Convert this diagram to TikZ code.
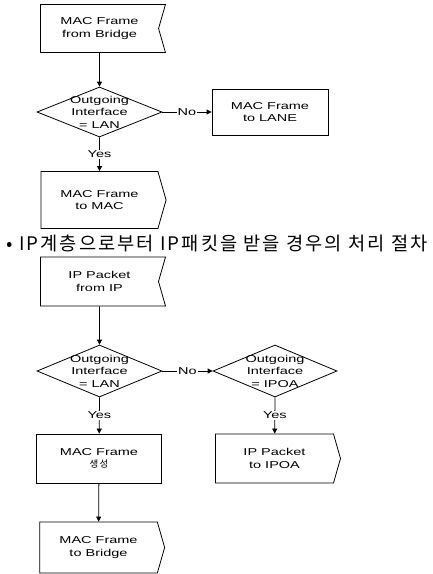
\documentclass[tikz,border=0pt]{standalone}
\usepackage{fontspec}
\setmainfont{Liberation Sans}
\newfontfamily\boxfont[FakeStretch=1.45]{Liberation Sans}
\newfontfamily\kofont[LetterSpace=11]{Noto Sans CJK KR}
\usetikzlibrary{shapes.geometric, shapes.symbols, arrows.meta}
\tikzstyle{arrow} = [line width=0.8pt, ->, >={Triangle[length=5pt,width=5pt]}]
\tikzstyle{procbox} = [draw, line width=0.8pt, rectangle, minimum width=125pt, minimum height=48pt, align=center, font=\boxfont\fontsize{10}{12.5}\selectfont]
\tikzstyle{inbox} = [procbox, signal, signal to=nowhere, signal from=east, signal pointer angle=148]
\tikzstyle{outbox} = [procbox, signal, signal to=east, signal from=nowhere, signal pointer angle=148]
\tikzstyle{decision} = [draw, line width=0.8pt, diamond, inner sep=0pt, minimum width=125pt, minimum height=50pt]
\tikzstyle{answer} = [fill=white, inner sep=1pt, font=\boxfont\fontsize{10}{12.5}\selectfont]

\begin{document}
\begin{tikzpicture}[x=1pt, y=-1pt]
    \useasboundingbox (0,0) rectangle (432,574);

    % Bridge -> MAC / LANE
    \node[inbox] (frombridge) at (99.5,28.5) {MAC Frame\\from Bridge};
    \node[decision, label={[align=center, font=\boxfont\fontsize{10}{12.5}\selectfont]center:Outgoing\\Interface\\= LAN}] (lanchk) at (99.5,112) {};
    \node[procbox, minimum width=116pt, minimum height=46pt] (tolane) at (270,112) {MAC Frame\\to LANE};
    \node[outbox, minimum height=57pt] (tomac) at (99.5,200) {MAC Frame\\to MAC};

    \draw[arrow] (frombridge) -- (lanchk);
    \draw[arrow] (lanchk.east) -- node[answer] {No} (tolane);
    \draw[arrow] (lanchk.south) -- node[answer] {Yes} (tomac);

    \node[anchor=west, font=\kofont\fontsize{18.7}{20}\selectfont] (iptitle) at (3,243) {• IP계층으로부터 IP패킷을 받을 경우의 처리 절차};

    % IP -> Bridge / IPOA
    \node[inbox, minimum height=49pt] (fromip) at (99.5,281.5) {IP Packet\\from IP};
    \node[decision, minimum height=52pt, label={[align=center, font=\boxfont\fontsize{10}{12.5}\selectfont]center:Outgoing\\Interface\\= LAN}] (lanchk2) at (99.5,371) {};
    \node[decision, minimum width=124pt, minimum height=52pt, label={[align=center, font=\boxfont\fontsize{10}{12.5}\selectfont]center:Outgoing\\Interface\\= IPOA}] (ipoachk) at (275,371) {};
    \node[procbox, minimum height=49pt] (mkframe) at (99,458.5) {MAC Frame\\{\kofont\fontsize{9.5}{12}\selectfont 생성}};
    \node[outbox, minimum height=49pt] (toipoa) at (274.5,458.5) {IP Packet\\to IPOA};
    \node[outbox, minimum height=51pt] (tobridge) at (98.5,547.5) {MAC Frame\\to Bridge};

    \draw[arrow] (fromip) -- (lanchk2);
    \draw[arrow] (lanchk2.east) -- node[answer] {No} (ipoachk.west);
    \draw[arrow] (lanchk2.south) -- node[answer] {Yes} (mkframe);
    \draw[arrow] (ipoachk.south) -- node[answer] {Yes} (toipoa);
    \draw[arrow] (mkframe) -- (tobridge);
\end{tikzpicture}
\end{document}
